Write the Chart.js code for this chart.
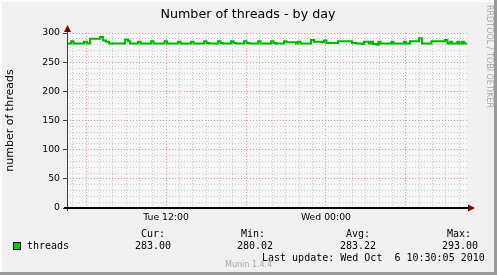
<!DOCTYPE html>
<html>
<head>
  <meta charset="utf-8" />
  <title>Number of threads - by day</title>
  <script src="https://cdn.jsdelivr.net/npm/chart.js@4.4.1/dist/chart.umd.min.js"></script>
  <style>
    html, body { margin: 0; padding: 0; background: #f0f0f0; }
    canvas { display: block; }
  </style>
</head>
<body>
  <canvas id="threadsChart" width="497" height="275"></canvas>

  <script>
    // Samples: hours since Tue 00:00, value holds until the next sample
    const sampleHours = [
      4.58, 4.88, 5.06, 5.85, 6.08, 6.3, 7.05, 7.28, 7.5, 7.73,
      8.93, 9.15, 9.3, 9.9, 10.09, 10.88, 11.06, 11.89, 12.08, 12.9,
      13.09, 13.88, 14.06, 14.85, 15.04, 15.23, 15.9, 16.09, 16.28, 16.88,
      17.06, 17.25, 17.85, 18.04, 18.23, 18.9, 19.09, 19.88, 20.06, 20.25,
      20.85, 21.04, 21.75, 21.9, 22.09, 22.88, 23.1, 23.7, 23.85, 24.04,
      24.9, 25.95, 26.33, 26.7, 26.85, 27.23, 27.38, 27.53, 27.83, 27.94,
      28.09, 28.91, 29.06, 29.85, 30, 30.3, 30.98, 31.2, 31.91, 32.93,
      33.11, 33.3, 33.45, 33.86, 34.01, 34.2, 34.35, 34.57
    ];
    const threads = [
      282, 286, 282, 285, 282, 290, 293, 287, 285, 282,
      289, 286, 282, 285, 282, 286, 282, 286, 282, 285,
      282, 285, 282, 286, 283, 282, 286, 283, 282, 286,
      283, 282, 286, 283, 282, 286, 282, 286, 283, 282,
      286, 284, 282, 285, 282, 288, 285, 284, 287, 283,
      286, 283, 282, 281, 285, 282, 285, 281, 280, 285,
      282, 285, 282, 285, 282, 286, 291, 282, 286, 288,
      282, 285, 282, 285, 282, 285, 282, 283
    ];

    // x tick labels (hours since Tue 00:00)
    const timeTicks = { 12: 'Tue 12:00', 24: 'Wed 00:00' };
    const xRange = [4.57, 34.58];

    // legend texts
    const seriesName = 'threads';
    const statLabels = ['Cur:', 'Min:', 'Avg:', 'Max:'];
    const statValues = ['283.00', '280.02', '283.22', '293.00'];
    const lastUpdate = 'Last update: Wed Oct  6 10:30:05 2010';

    const MONO = '"DejaVu Sans Mono", monospace';
    const SANS = '"DejaVu Sans", sans-serif';
    const RED_GRID = 'rgba(232, 115, 115, 0.75)';
    const GRAY_GRID = 'rgba(185, 185, 185, 0.75)';

    // background, frame shading, axes with arrows and the legend text
    const rrdDecor = {
      id: 'rrdDecor',
      beforeDraw(chart) {
        const ctx = chart.ctx;
        const a = chart.chartArea;
        ctx.save();
        ctx.fillStyle = '#f0f0f0';
        ctx.fillRect(0, 0, chart.width, chart.height);
        ctx.fillStyle = '#f6f6f6';
        ctx.fillRect(a.left, a.top, a.right - a.left, a.bottom - a.top);
        // 3d frame
        ctx.fillStyle = '#fbfbfb';
        ctx.fillRect(0, 0, chart.width, 2);
        ctx.fillRect(0, 0, 2, chart.height);
        ctx.fillStyle = '#9a9a9a';
        ctx.fillRect(0, chart.height - 3, chart.width, 3);
        ctx.fillRect(chart.width - 3, 0, 3, chart.height);
        ctx.restore();
      },
      afterDraw(chart) {
        const ctx = chart.ctx;
        const a = chart.chartArea;
        const y0 = chart.scales.y.getPixelForValue(0);
        ctx.save();

        // y axis
        ctx.strokeStyle = '#404040';
        ctx.lineWidth = 1;
        ctx.beginPath();
        ctx.moveTo(a.left + 0.5, a.top - 2);
        ctx.lineTo(a.left + 0.5, y0 + 3);
        ctx.stroke();
        // x axis (thick zero line)
        ctx.strokeStyle = '#000';
        ctx.lineWidth = 2;
        ctx.beginPath();
        ctx.moveTo(a.left - 3, y0);
        ctx.lineTo(a.right + 2, y0);
        ctx.stroke();

        // arrows
        ctx.fillStyle = '#7f0000';
        ctx.beginPath();
        ctx.moveTo(a.left + 0.5, a.top - 8);
        ctx.lineTo(a.left - 3, a.top - 1);
        ctx.lineTo(a.left + 4, a.top - 1);
        ctx.closePath();
        ctx.fill();
        ctx.beginPath();
        ctx.moveTo(a.right + 8, y0);
        ctx.lineTo(a.right + 1, y0 - 3.5);
        ctx.lineTo(a.right + 1, y0 + 3.5);
        ctx.closePath();
        ctx.fill();

        // title
        ctx.fillStyle = '#000';
        ctx.font = '12.7px ' + SANS;
        ctx.textAlign = 'center';
        ctx.textBaseline = 'alphabetic';
        ctx.fillText('Number of threads - by day', 248, 18);

        // legend
        ctx.fillStyle = '#00cc00';
        ctx.fillRect(13, 242, 8, 8);
        ctx.strokeStyle = '#000';
        ctx.lineWidth = 1;
        ctx.strokeRect(13.5, 242.5, 7, 7);

        ctx.fillStyle = '#000';
        ctx.font = '10px ' + MONO;
        ctx.textAlign = 'left';
        ctx.textBaseline = 'middle';
        ctx.fillText(seriesName, 27, 246);
        const labelX = [141, 241, 346, 447];
        const valueX = [135, 237, 340, 442];
        statLabels.forEach((t, i) => ctx.fillText(t, labelX[i], 234));
        statValues.forEach((t, i) => ctx.fillText(t, valueX[i], 246));
        ctx.fillText(lastUpdate, 262, 258);

        // small grey credits
        ctx.fillStyle = '#a8a8a8';
        ctx.font = '8px ' + SANS;
        ctx.fillText('Munin 1.4.4', 225, 265);
        ctx.translate(489, 5);
        ctx.rotate(Math.PI / 2);
        ctx.textBaseline = 'middle';
        ctx.fillText('RRDTOOL / TOBI OETIKER', 0, 0);
        ctx.restore();
      }
    };

    const ctx = document.getElementById('threadsChart').getContext('2d');
    new Chart(ctx, {
      type: 'line',
      data: {
        datasets: [{
          label: seriesName,
          data: sampleHours.map((h, i) => ({ x: h, y: threads[i] })),
          borderColor: '#00b800',
          borderWidth: 2,
          pointRadius: 0,
          stepped: true,
          fill: false
        }]
      },
      options: {
        responsive: false,
        animation: false,
        devicePixelRatio: 1,
        layout: { padding: { top: 33, right: 30, left: 0, bottom: 0 } },
        plugins: {
          legend: { display: false },
          title: { display: false },
          tooltip: { enabled: false }
        },
        scales: {
          x: {
            type: 'linear',
            min: xRange[0],
            max: xRange[1],
            afterFit: (s) => { s.height = 67; },
            border: { display: false, dash: [1, 2] },
            grid: {
              drawTicks: false,
              color: (c) => (Math.round(c.tick.value) % 6 === 0 ? RED_GRID : GRAY_GRID)
            },
            ticks: {
              stepSize: 1,
              includeBounds: false,
              autoSkip: false,
              maxRotation: 0,
              padding: 4,
              color: '#000',
              font: { family: SANS, size: 9.3 },
              callback: (v) => timeTicks[Math.round(v)] || ''
            }
          },
          y: {
            min: 0,
            max: 300,
            afterFit: (s) => { s.width = 67; },
            border: { display: false, dash: [1, 2] },
            title: {
              display: true,
              text: 'number of threads',
              color: '#000',
              font: { family: SANS, size: 11 },
              padding: { top: 4, bottom: 0 }
            },
            grid: {
              tickLength: 4,
              color: (c) => (c.tick.value % 50 === 0 ? RED_GRID : GRAY_GRID),
              tickColor: (c) => (c.tick.value % 50 === 0 ? '#404040' : 'rgba(0,0,0,0)')
            },
            ticks: {
              stepSize: 10,
              autoSkip: false,
              padding: 3,
              color: '#000',
              font: { family: SANS, size: 9.3 },
              callback: (v) => (v % 50 === 0 ? String(v) : '')
            }
          }
        }
      },
      plugins: [rrdDecor]
    });
  </script>
</body>
</html>
